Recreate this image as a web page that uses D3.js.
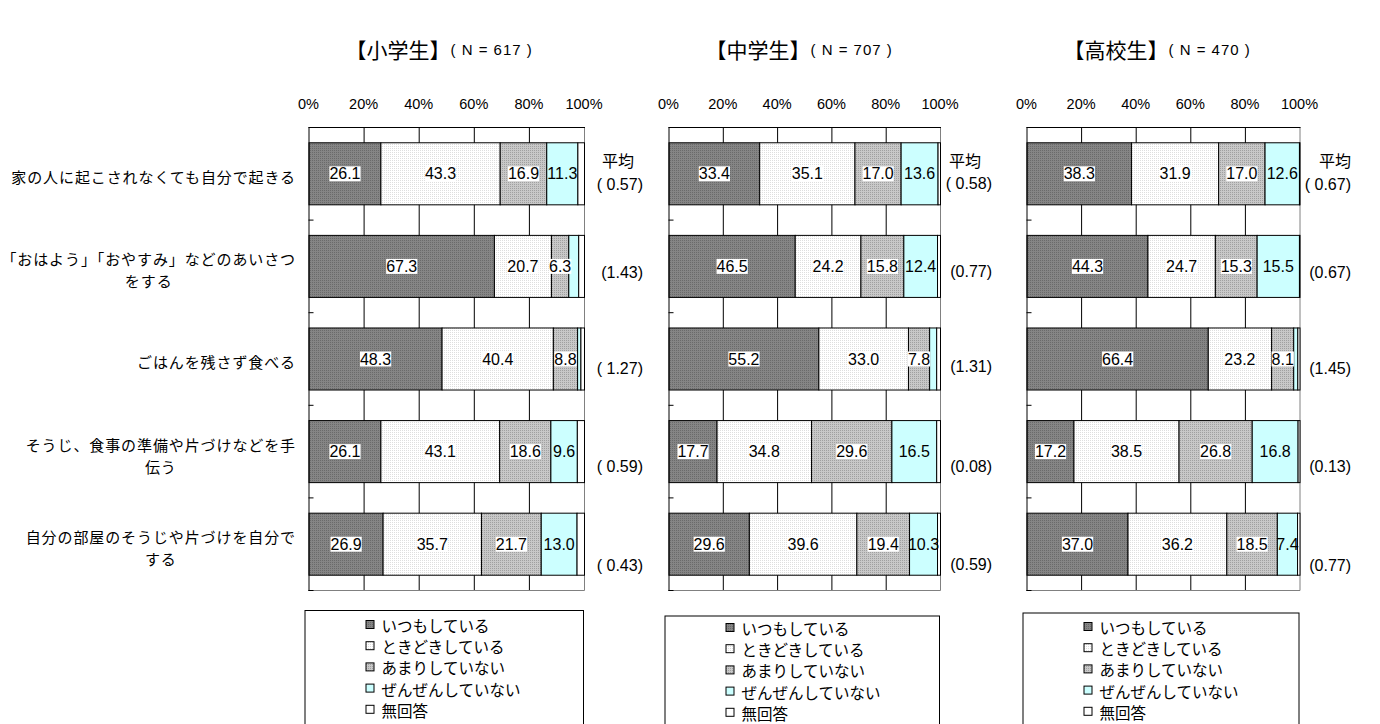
<!DOCTYPE html>
<html>
<head>
<meta charset="utf-8">
<script src="https://cdn.jsdelivr.net/npm/d3@7"></script>
<style>
  body { margin: 0; background: #fff; }
  text { fill: #000; }
</style>
</head>
<body>
<div id="content"></div>
<script>
// categories (left axis), shared by all three panels
var categories = [
  "家の人に起こされなくても自分で起きる",
  "「おはよう」「おやすみ」などのあいさつ\nをする",
  "ごはんを残さず食べる",
  "そうじ、食事の準備や片づけなどを手\n伝う",
  "自分の部屋のそうじや片づけを自分で\nする"
];
var seriesNames = ["いつもしている", "ときどきしている", "あまりしていない", "ぜんぜんしていない", "無回答"];
var groups = ["小学生", "中学生", "高校生"];
var groupN = [617, 707, 470];
var xTicks = [0, 20, 40, 60, 80, 100];

// percentages per category: [いつも, ときどき, あまり, ぜんぜん, 無回答]
var elementary = [
  [26.1, 43.3, 16.9, 11.3, 2.4],
  [67.3, 20.7, 6.3, 3.6, 2.1],
  [48.3, 40.4, 8.8, 1.2, 1.3],
  [26.1, 43.1, 18.6, 9.6, 2.6],
  [26.9, 35.7, 21.7, 13.0, 2.7]
];
var juniorHigh = [
  [33.4, 35.1, 17.0, 13.6, 0.9],
  [46.5, 24.2, 15.8, 12.4, 1.1],
  [55.2, 33.0, 7.8, 2.6, 1.4],
  [17.7, 34.8, 29.6, 16.5, 1.4],
  [29.6, 39.6, 19.4, 10.3, 1.1]
];
var highSchool = [
  [38.3, 31.9, 17.0, 12.6, 0.2],
  [44.3, 24.7, 15.3, 15.5, 0.2],
  [66.4, 23.2, 8.1, 1.5, 0.8],
  [17.2, 38.5, 26.8, 16.8, 0.7],
  [37.0, 36.2, 18.5, 7.4, 0.9]
];
// 平均 labels as printed
var avgElementary = ["( 0.57)", "(1.43)", "( 1.27)", "( 0.59)", "( 0.43)"];
var avgJuniorHigh = ["( 0.58)", "(0.77)", "(1.31)", "(0.08)", "(0.59)"];
var avgHighSchool = ["( 0.67)", "(0.67)", "(1.45)", "(0.13)", "(0.77)"];

var panelData = [elementary, juniorHigh, highSchool];
var panelAvg = [avgElementary, avgJuniorHigh, avgHighSchool];

// layout
var panelX = [308.5, 668.5, 1026.5];
var panelW = [275.5, 271.5, 273];
var plotTop = 127, plotBottom = 590;
var avgRight = [643, 992, 1351];
var heikinX = [618, 965, 1335];
var avgDy = [[17, 12, 15, 21, 27], [16, 11, 13, 21, 26], [17, 12, 15, 21, 27]];
var legendTop = [610, 615.5, 612.5];
var legendFirst = [625, 628, 627];

var jp = "'Noto Sans CJK JP', 'Noto Sans', sans-serif";
var num = "'Liberation Sans', Arial, sans-serif";

var svg = d3.select("#content").append("svg")
  .attr("width", 1380)
  .attr("height", 724)
  .style("display", "block");

// fill patterns
var defs = svg.append("defs");
function dotPattern(id, bg, dot) {
  var p = defs.append("pattern")
    .attr("id", id)
    .attr("patternUnits", "userSpaceOnUse")
    .attr("width", 2).attr("height", 2);
  p.append("rect").attr("width", 2).attr("height", 2).attr("fill", bg);
  p.append("rect").attr("width", 1).attr("height", 1).attr("fill", dot);
}
dotPattern("p0", "#858585", "#6a6a6a");
dotPattern("p1", "#ffffff", "#dedede");
dotPattern("p2", "#c8c8c8", "#a0a0a0");
var fills = ["url(#p0)", "url(#p1)", "url(#p2)", "#ccffff", "#ffffff"];

var y = d3.scaleBand()
  .domain(d3.range(categories.length))
  .range([plotTop, plotBottom])
  .paddingInner(0.33)
  .paddingOuter(0.165);

var stack = d3.stack().keys(d3.range(seriesNames.length));

groups.forEach(function(g, pi) {
  var x = d3.scaleLinear().domain([0, 100]).range([panelX[pi], panelX[pi] + panelW[pi]]);
  var p = svg.append("g");

  // title
  var t = p.append("text")
    .attr("x", panelX[pi] + 37)
    .attr("y", 49)
    .attr("dominant-baseline", "central");
  t.append("tspan").text("【" + g + "】")
    .style("font-family", jp).style("font-size", "21px");
  t.append("tspan").text("( N = " + groupN[pi] + " )")
    .style("font-family", num).style("font-size", "15px")
    .style("letter-spacing", "1px");

  // top value axis labels
  p.selectAll(".tick-label").data(xTicks).enter().append("text")
    .attr("x", function(d) { return x(d); })
    .attr("y", 109)
    .attr("text-anchor", "middle")
    .style("font-family", num).style("font-size", "14.5px")
    .text(function(d) { return d + "%"; });

  // grid lines
  p.selectAll(".grid").data(xTicks.slice(1, -1)).enter().append("line")
    .attr("x1", function(d) { return x(d) + 0.5; })
    .attr("x2", function(d) { return x(d) + 0.5; })
    .attr("y1", plotTop).attr("y2", plotBottom)
    .attr("stroke", "#000").attr("stroke-width", 1);

  // frame: right and bottom gray, top axis black
  p.append("path")
    .attr("d", "M" + (x(100) + 0.5) + "," + plotTop + " L" + (x(100) + 0.5) + "," + (plotBottom + 0.5) + " L" + x(0) + "," + (plotBottom + 0.5))
    .attr("fill", "none").attr("stroke", "#808080");
  p.append("line")
    .attr("x1", x(0)).attr("x2", x(100) + 1)
    .attr("y1", plotTop + 0.5).attr("y2", plotTop + 0.5)
    .attr("stroke", "#000");

  // bars
  var stacked = stack(panelData[pi]);
  stacked.forEach(function(layer, si) {
    p.selectAll(".seg" + si).data(layer).enter().append("rect")
      .attr("x", function(d) { return x(d[0]) + 0.5; })
      .attr("y", function(d, i) { return y(i) + 0.5; })
      .attr("width", function(d) { return Math.max(0, x(d[1]) - x(d[0])); })
      .attr("height", y.bandwidth())
      .attr("fill", fills[si])
      .attr("stroke", "#000").attr("stroke-width", 1);
  });

  // left category axis + inner ticks
  p.append("line")
    .attr("x1", x(0) + 0.5).attr("x2", x(0) + 0.5)
    .attr("y1", plotTop).attr("y2", plotBottom + 1)
    .attr("stroke", "#000");
  var step = y.step();
  p.selectAll(".ytick").data(d3.range(1, categories.length + 1)).enter().append("line")
    .attr("x1", x(0)).attr("x2", x(0) + 5)
    .attr("y1", function(d) { return plotTop + d * step + 0.5; })
    .attr("y2", function(d) { return plotTop + d * step + 0.5; })
    .attr("stroke", "#000");

  // value labels
  stacked.forEach(function(layer, si) {
    if (si > 3) return;
    layer.forEach(function(d, i) {
      var v = d.data[si];
      if (v < 5) return;
      var cx = (x(d[0]) + x(d[1])) / 2 + 0.5;
      var cy = y(i) + y.bandwidth() / 2 + 0.5;
      var lg = p.append("g");
      var txt = lg.append("text")
        .attr("x", cx).attr("y", cy)
        .attr("text-anchor", "middle")
        .attr("dominant-baseline", "central")
        .style("font-family", num).style("font-size", "16px")
        .text(v.toFixed(1));
      if (si < 3) {
        var bb = txt.node().getBBox();
        lg.insert("rect", "text")
          .attr("x", bb.x).attr("y", bb.y + 1)
          .attr("width", bb.width).attr("height", bb.height - 2)
          .attr("fill", "#fff");
      }
    });
  });

  // averages
  p.append("text")
    .attr("x", heikinX[pi]).attr("y", 160)
    .attr("text-anchor", "middle")
    .attr("dominant-baseline", "central")
    .style("font-family", jp).style("font-size", "16px")
    .text("平均");
  p.selectAll(".avg").data(panelAvg[pi]).enter().append("text")
    .attr("x", avgRight[pi])
    .attr("y", function(d, i) { return y(i) + y.bandwidth() / 2 + avgDy[pi][i]; })
    .attr("text-anchor", "end")
    .style("font-family", num).style("font-size", "16px")
    .style("white-space", "pre")
    .attr("xml:space", "preserve")
    .text(function(d) { return d; });

  // legend
  var lt = legendTop[pi];
  p.append("rect")
    .attr("x", x(0) - 3.5).attr("y", lt + 0.5)
    .attr("width", panelW[pi] + 3).attr("height", 140)
    .attr("fill", "#fff").attr("stroke", "#000");
  seriesNames.forEach(function(s, si) {
    var ly = legendFirst[pi] + si * 21.2;
    p.append("rect")
      .attr("x", x(0) + 57.5).attr("y", ly - 4.5)
      .attr("width", 8).attr("height", 8)
      .attr("fill", fills[si]).attr("stroke", "#000");
    p.append("text")
      .attr("x", x(0) + 73).attr("y", ly)
      .attr("dominant-baseline", "central")
      .style("font-family", jp).style("font-size", "15.5px")
      .text(s);
  });
});

// category labels (left of first panel), centred lines, right-aligned block
categories.forEach(function(c, i) {
  var lines = c.split("\n");
  var cy = y(i) + y.bandwidth() / 2;
  var g = svg.append("g");
  var texts = lines.map(function(l, li) {
    var ly = lines.length === 1 ? cy + 3 : cy - 7 + li * 22;
    return g.append("text")
      .attr("y", ly)
      .attr("text-anchor", "middle")
      .attr("dominant-baseline", "central")
      .style("font-family", jp).style("font-size", "15px")
      .style("letter-spacing", "0.9px")
      .text(l);
  });
  var w = d3.max(texts, function(t) { return t.node().getComputedTextLength(); });
  texts.forEach(function(t) { t.attr("x", 296 - w / 2); });
});
</script>
</body>
</html>
